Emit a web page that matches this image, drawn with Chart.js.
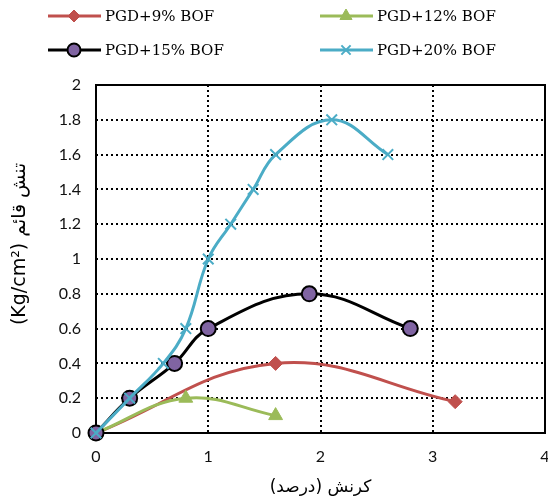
<!DOCTYPE html>
<html>
<head>
<meta charset="utf-8">
<script src="https://cdn.jsdelivr.net/npm/chart.js@4/dist/chart.umd.min.js"></script>
<style>
    html, body { margin: 0; padding: 0; background: #fff; }
</style>
</head>
<body>
<canvas id="stressChart" width="548" height="502"></canvas>
<script>
const SERIES_NAMES = ["PGD+9% BOF", "PGD+12% BOF", "PGD+15% BOF", "PGD+20% BOF"];
const STRAIN_9 = [0, 1.6, 3.2];
const STRESS_9 = [0, 0.4, 0.18];
const STRAIN_12 = [0, 0.8, 1.6];
const STRESS_12 = [0, 0.2, 0.1];
const STRAIN_15 = [0, 0.3, 0.7, 1, 1.9, 2.8];
const STRESS_15 = [0, 0.2, 0.4, 0.6, 0.8, 0.6];
const STRAIN_20 = [0, 0.3, 0.6, 0.8, 1, 1.2, 1.4, 1.6, 2.1, 2.6];
const STRESS_20 = [0, 0.2, 0.4, 0.6, 1, 1.2, 1.4, 1.6, 1.8, 1.6];
const X_TICKS = [0, 1, 2, 3, 4];
const Y_TICKS = [0, 0.2, 0.4, 0.6, 0.8, 1, 1.2, 1.4, 1.6, 1.8, 2];
const X_TITLE = "کرنش (درصد)";
// leading nbsp nudges the rotated title up a little, as in the original
const Y_TITLE = "\u00A0\u00A0\u00A0\u00A0\u00A0(Kg/cm²) تنش قائم";

function toPoints(xs, ys) {
    return xs.map((x, i) => ({ x: x, y: ys[i] }));
}

// markers may sit on the frame, don't let them shrink the plot area
Chart.ScatterController.prototype.getMaxOverflow = function () { return 0; };

// legend laid out as 2 x 2 like the original
const gridLegend = {
    id: "gridLegend",
    afterDraw(chart) {
        const ctx = chart.ctx;
        const COLS = [48, 320];
        const ROWS = [16, 50];
        chart.data.datasets.forEach((ds, i) => {
            const x = COLS[i % 2];
            const y = ROWS[Math.floor(i / 2)];
            ctx.save();
            ctx.strokeStyle = ds.borderColor;
            ctx.lineWidth = 3;
            ctx.beginPath();
            ctx.moveTo(x, y);
            ctx.lineTo(x + 53, y);
            ctx.stroke();
            ctx.fillStyle = ds.pointBackgroundColor;
            ctx.strokeStyle = ds.pointBorderColor;
            ctx.lineWidth = ds.pointBorderWidth;
            Chart.helpers.drawPoint(ctx, {
                pointStyle: ds.pointStyle,
                radius: ds.pointRadius - 1,
                borderWidth: ds.pointBorderWidth,
                rotation: 0
            }, x + 26, y);
            ctx.fillStyle = "#000";
            ctx.font = "15px 'DejaVu Serif'";
            ctx.textBaseline = "middle";
            ctx.fillText(ds.label, x + 57, y + 1);
            ctx.restore();
        });
    }
};

// solid frame round the plot area
const plotFrame = {
    id: "plotFrame",
    beforeDatasetsDraw(chart) {
        const a = chart.chartArea;
        const ctx = chart.ctx;
        ctx.save();
        ctx.strokeStyle = "#000";
        ctx.lineWidth = 2;
        ctx.strokeRect(a.left, a.top, a.right - a.left, a.bottom - a.top);
        ctx.restore();
    }
};

const ctx = document.getElementById("stressChart").getContext("2d");
const stressChart = new Chart(ctx, {
    type: "scatter",
    data: {
        datasets: [{
            label: SERIES_NAMES[0],
            data: toPoints(STRAIN_9, STRESS_9),
            borderColor: "#C0504D",
            backgroundColor: "#C0504D",
            pointBackgroundColor: "#C0504D",
            pointBorderColor: "#C0504D",
            pointStyle: "rectRot",
            pointRadius: 7,
            pointBorderWidth: 1,
            order: 4
        }, {
            label: SERIES_NAMES[1],
            data: toPoints(STRAIN_12, STRESS_12),
            borderColor: "#9BBB59",
            backgroundColor: "#9BBB59",
            pointBackgroundColor: "#9BBB59",
            pointBorderColor: "#9BBB59",
            pointStyle: "triangle",
            pointRadius: 8,
            pointBorderWidth: 1,
            order: 3
        }, {
            label: SERIES_NAMES[2],
            data: toPoints(STRAIN_15, STRESS_15),
            borderColor: "#000000",
            backgroundColor: "#8064A2",
            pointBackgroundColor: "#8064A2",
            pointBorderColor: "#000000",
            pointStyle: "circle",
            pointRadius: 7.5,
            pointBorderWidth: 2,
            order: 2
        }, {
            label: SERIES_NAMES[3],
            data: toPoints(STRAIN_20, STRESS_20),
            borderColor: "#4BACC6",
            backgroundColor: "#4BACC6",
            pointBackgroundColor: "#4BACC6",
            pointBorderColor: "#4BACC6",
            pointStyle: "crossRot",
            pointRadius: 7.5,
            pointBorderWidth: 2,
            order: 1
        }]
    },
    options: {
        responsive: false,
        animation: false,
        devicePixelRatio: 1,
        showLine: true,
        datasets: {
            scatter: { clip: false }
        },
        elements: {
            line: { borderWidth: 3, tension: 0.4, fill: false }
        },
        layout: {
            padding: { top: 85, right: 3, left: 0, bottom: 0 }
        },
        plugins: {
            legend: { display: false },
            tooltip: { enabled: false }
        },
        scales: {
            x: {
                type: "linear",
                min: 0,
                max: 4,
                afterBuildTicks: (scale) => { scale.ticks = X_TICKS.map(v => ({ value: v })); },
                afterFit: (scale) => {
                    scale.height = 69;
                    scale.paddingLeft = 0;
                    scale.paddingRight = 0;
                },
                grid: { color: "#000", lineWidth: 2, drawTicks: false },
                border: { display: false, dash: [2, 3] },
                ticks: {
                    color: "#111",
                    padding: 14,
                    font: { family: "Lato", size: 16 },
                    callback: (v) => String(v)
                },
                title: {
                    display: true,
                    text: X_TITLE,
                    color: "#000",
                    font: { family: "'DejaVu Sans'", size: 17 },
                    padding: { top: 0, bottom: 4 }
                }
            },
            y: {
                type: "linear",
                min: 0,
                max: 2,
                afterBuildTicks: (scale) => { scale.ticks = Y_TICKS.map(v => ({ value: v })); },
                afterFit: (scale) => { scale.width = 96; },
                grid: { color: "#000", lineWidth: 2, drawTicks: false },
                border: { display: false, dash: [2, 3] },
                ticks: {
                    color: "#111",
                    padding: 15,
                    font: { family: "Lato", size: 16 },
                    callback: (v) => String(v)
                },
                title: {
                    display: true,
                    text: Y_TITLE,
                    color: "#000",
                    font: { family: "'DejaVu Sans'", size: 19 },
                    padding: { top: 9, bottom: 0 }
                }
            }
        }
    },
    plugins: [plotFrame, gridLegend]
});
</script>
</body>
</html>
